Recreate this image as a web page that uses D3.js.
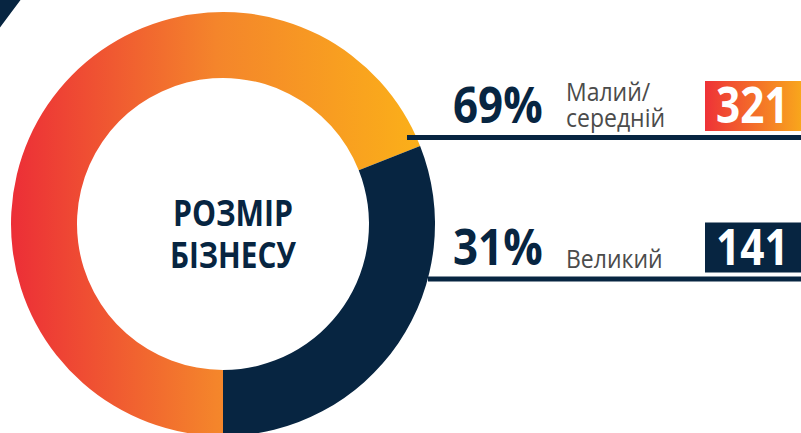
<!DOCTYPE html>
<html>
<head>
<meta charset="utf-8">
<script src="https://cdn.jsdelivr.net/npm/d3@7.9.0/dist/d3.min.js"></script>
<style>
  html, body { margin: 0; padding: 0; background: #fff; }
  svg { display: block; }
</style>
</head>
<body>
<svg id="chart" width="801" height="433"></svg>
<script>
const categories = ["Малий/середній", "Великий"];
const labelLines = [["Малий/", "середній"], ["Великий"]];
const shares = [69, 31];
const counts = [321, 141];
const title = ["РОЗМІР", "БІЗНЕСУ"];

const navy = "#072541";
const svg = d3.select("#chart");
const defs = svg.append("defs");

const cx = 223, cy = 224, outerR = 212, innerR = 146;

// warm gradient for the big slice (page coords)
const ringGrad = defs.append("linearGradient")
  .attr("id", "ringGrad")
  .attr("gradientUnits", "userSpaceOnUse")
  .attr("x1", -outerR).attr("x2", outerR * 0.94)
  .attr("y1", 0).attr("y2", 0);
ringGrad.append("stop").attr("offset", "0%").attr("stop-color", "#ec2e37");
ringGrad.append("stop").attr("offset", "50%").attr("stop-color", "#f4852b");
ringGrad.append("stop").attr("offset", "100%").attr("stop-color", "#fbb019");

const boxGrad = defs.append("linearGradient").attr("id", "boxGrad");
boxGrad.append("stop").attr("offset", "0%").attr("stop-color", "#ee3237");
boxGrad.append("stop").attr("offset", "100%").attr("stop-color", "#f9ab1b");

const fills = ["url(#ringGrad)", navy];
const boxFills = ["url(#boxGrad)", navy];

// corner decoration
svg.append("path")
  .attr("d", "M0,0 L20.5,0 Q10,14 0,27.5 Z")
  .attr("fill", navy);

// donut
const pie = d3.pie().sort(null).startAngle(Math.PI).endAngle(3 * Math.PI);
const arcGen = d3.arc().innerRadius(innerR).outerRadius(outerR);

const ring = svg.append("g").attr("transform", `translate(${cx},${cy})`);
ring.selectAll("path")
  .data(pie(shares))
  .enter()
  .append("path")
  .attr("d", arcGen)
  .attr("fill", (d, i) => fills[i]);

ring.selectAll("text.title")
  .data(title)
  .enter()
  .append("text")
  .attr("class", "title")
  .attr("x", 10)
  .attr("y", (d, i) => 2 + i * 42)
  .attr("text-anchor", "middle")
  .attr("font-family", "Open Sans")
  .attr("font-weight", 700)
  .attr("font-size", 35)
  .attr("textLength", (d, i) => (i === 0 ? 120 : 126))
  .attr("lengthAdjust", "spacingAndGlyphs")
  .attr("fill", navy)
  .text(d => d);

// rows on the right
const rowY = d3.scalePoint().domain(categories).range([137.5, 279]);
const lineStart = [407, 428];

const rows = svg.selectAll("g.row")
  .data(categories.map((c, i) => ({ cat: c, lines: labelLines[i], share: shares[i], count: counts[i], i })))
  .enter()
  .append("g")
  .attr("class", "row")
  .attr("transform", d => `translate(0,${rowY(d.cat)})`);

rows.append("line")
  .attr("x1", d => lineStart[d.i]).attr("x2", 801)
  .attr("y1", 0).attr("y2", 0)
  .attr("stroke", navy)
  .attr("stroke-width", 5);

rows.append("text")
  .attr("transform", "translate(453,-14.5) scale(0.86,1)")
  .attr("font-family", "Open Sans")
  .attr("font-weight", 700)
  .attr("font-size", 51)
  .attr("fill", navy)
  .text(d => d.share + "%");

rows.each(function (d) {
  const g = d3.select(this);
  const n = d.lines.length;
  d.lines.forEach((t, k) => {
    g.append("text")
      .attr("transform", `translate(566,${-11 - (n - 1 - k) * 26}) scale(0.92,1)`)
      .attr("font-family", "Open Sans")
      .attr("font-size", 25)
      .attr("fill", "#4b4b4b")
      .text(t);
  });
});

rows.append("rect")
  .attr("x", 705).attr("y", -56.5)
  .attr("width", 100).attr("height", 50)
  .attr("fill", d => boxFills[d.i]);

rows.append("text")
  .attr("transform", "translate(716,-14.5) scale(0.83,1)")
  .attr("font-family", "Open Sans")
  .attr("font-weight", 700)
  .attr("font-size", 51)
  .attr("fill", "#fff")
  .text(d => d.count);
</script>
</body>
</html>
